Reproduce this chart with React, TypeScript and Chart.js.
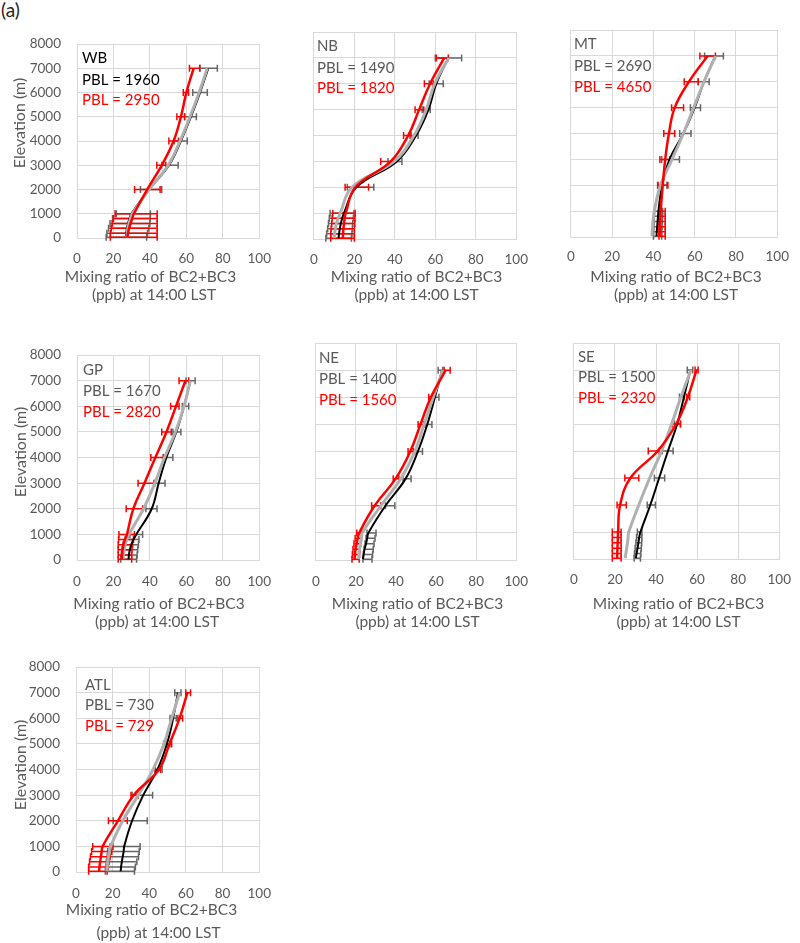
import React, { useEffect, useRef } from "react";
import { Chart, registerables } from "chart.js";

Chart.register(...registerables);

// ---------- data ----------
const LEVELS = [30, 200, 400, 600, 800, 1000, 2000, 3000, 4000, 5000, 6000, 7000];
const X_TITLE = ["Mixing ratio of BC2+BC3", "(ppb) at 14:00 LST"];
const Y_TITLE = "Elevation (m)";

// WB
const WB_BLACK = [26.8, 27.0, 27.4, 28.0, 28.8, 29.8, 39.5, 50.5, 57.0, 62.5, 67.5, 72.0];
const WB_GRAY = [27.3, 27.5, 27.9, 28.5, 29.3, 30.3, 39.5, 50.0, 56.5, 62.0, 67.0, 71.5];
const WB_RED = [27.6, 28.0, 28.6, 29.4, 30.3, 31.2, 38.5, 46.5, 53.0, 57.0, 60.0, 64.0];
const WB_RED_LO = [18.3, 18.3, 18.8, 19.3, 20.0, 20.9, 31.6, 43.8, 50.4, 54.8, 58.3, 61.7];
const WB_RED_HI = [44.0, 44.0, 44.0, 44.0, 44.0, 44.0, 45.6, 48.7, 55.7, 59.1, 61.2, 67.3];
const WB_BLACK_LO = [16.0, 16.4, 17.3, 18.1, 19.5, 21.6, 34.8, 46.5, 53.5, 59.0, 63.5, 67.5];
const WB_BLACK_HI = [38.2, 38.7, 39.4, 40.0, 40.2, 40.3, 46.5, 55.5, 60.5, 65.5, 71.5, 77.0];

// NB
const NB_BLACK = [12.2, 12.4, 12.8, 13.3, 14.0, 14.8, 21.0, 41.0, 50.5, 56.6, 60.5, 66.4];
const NB_GRAY = [10.0, 10.2, 10.6, 11.2, 12.0, 13.0, 18.8, 39.7, 49.5, 55.5, 59.7, 66.7];
const NB_RED = [14.3, 14.4, 14.6, 14.9, 15.2, 15.7, 20.5, 38.0, 46.6, 52.0, 57.4, 64.4];
const NB_RED_LO = [8.3, 8.3, 8.5, 8.8, 9.0, 9.3, 15.4, 33.0, 44.3, 50.0, 54.6, 60.5];
const NB_RED_HI = [20.0, 20.0, 20.0, 20.2, 20.3, 20.4, 27.0, 39.0, 48.0, 54.3, 59.0, 66.4];
const NB_BLACK_LO = [5.9, 6.3, 6.8, 7.2, 7.6, 8.0, 16.5, 36.6, 47.5, 53.5, 57.0, 60.0];
const NB_BLACK_HI = [18.5, 18.8, 19.0, 19.2, 19.5, 19.8, 29.6, 43.5, 51.5, 57.5, 63.9, 73.0];

// MT
const MT_BLACK = [41.5, 41.6, 41.8, 42.0, 42.2, 42.4, 44.2, 47.8, 54.5, 60.0, 64.5, 70.0];
const MT_GRAY = [39.3, 39.4, 39.6, 39.8, 40.1, 40.4, 43.4, 49.0, 54.5, 59.5, 64.5, 70.1];
const MT_RED = [43.0, 43.1, 43.2, 43.3, 43.4, 43.5, 44.5, 45.7, 47.5, 50.3, 57.2, 66.3];
const MT_RED_LO = [42.7, 42.7, 42.7, 42.7, 42.7, 42.7, 42.2, 43.1, 45.0, 48.8, 54.9, 62.5];
const MT_RED_HI = [45.7, 45.7, 45.7, 45.7, 45.7, 45.7, 47.0, 48.0, 50.3, 54.6, 61.7, 70.0];
const MT_BLACK_LO = [40.0, 40.0, 40.2, 40.3, 40.4, 40.5, 42.0, 44.0, 52.7, 57.9, 61.7, 64.8];
const MT_BLACK_HI = [44.0, 44.0, 44.2, 44.3, 44.4, 44.5, 46.5, 52.6, 58.2, 62.8, 67.0, 73.9];

// GP
const GP_BLACK = [28.3, 28.5, 29.0, 29.8, 31.0, 32.5, 41.0, 44.8, 49.0, 54.5, 58.7, 62.2];
const GP_GRAY = [25.3, 25.5, 25.9, 26.5, 27.3, 28.5, 36.5, 42.7, 48.0, 54.0, 58.7, 62.2];
const GP_RED = [24.5, 24.7, 25.0, 25.5, 26.3, 27.4, 30.9, 37.0, 43.0, 49.1, 54.3, 59.5];
const GP_RED_LO = [22.6, 22.6, 22.6, 22.6, 22.8, 23.0, 27.0, 33.5, 40.5, 46.5, 51.4, 56.0];
const GP_RED_HI = [30.0, 30.0, 30.2, 30.5, 31.0, 31.5, 36.0, 42.2, 47.4, 51.7, 56.0, 61.3];
const GP_BLACK_LO = [24.0, 24.3, 24.7, 25.3, 26.5, 29.0, 37.8, 42.7, 47.4, 52.6, 57.8, 59.8];
const GP_BLACK_HI = [32.7, 33.0, 33.3, 33.7, 34.0, 36.0, 43.9, 48.3, 52.6, 57.0, 61.3, 64.8];

// NE
const NE_BLACK = [23.5, 23.8, 24.3, 25.0, 25.6, 26.2, 34.7, 44.8, 50.9, 55.6, 59.4, 63.0];
const NE_GRAY = [21.3, 21.5, 21.8, 22.2, 22.7, 23.1, 32.4, 42.4, 49.4, 54.0, 58.6, 63.3];
const NE_RED = [19.3, 19.5, 19.8, 20.3, 20.9, 21.6, 29.3, 39.8, 47.1, 52.2, 57.4, 64.8];
const NE_RED_LO = [18.0, 18.2, 18.5, 19.0, 19.6, 20.4, 27.8, 38.6, 46.0, 51.0, 56.3, 64.0];
const NE_RED_HI = [21.6, 21.8, 22.0, 22.3, 22.7, 23.1, 32.4, 41.4, 48.6, 53.7, 58.6, 67.0];
const NE_BLACK_LO = [23.5, 23.7, 24.0, 24.5, 25.0, 25.5, 34.7, 43.5, 50.0, 54.5, 58.0, 61.0];
const NE_BLACK_HI = [28.0, 28.3, 28.6, 29.0, 29.5, 30.0, 39.4, 47.5, 53.2, 57.9, 61.4, 63.3];

// SE
const SE_BLACK = [30.2, 30.5, 31.0, 31.4, 31.8, 32.4, 37.2, 41.5, 45.8, 50.3, 53.6, 56.7];
const SE_GRAY = [25.0, 25.3, 25.7, 26.1, 26.4, 26.7, 31.6, 36.9, 42.7, 47.6, 52.1, 57.0];
const SE_RED = [21.0, 21.1, 21.2, 21.3, 21.4, 21.5, 22.5, 27.5, 40.8, 49.8, 55.5, 59.7];
const SE_RED_LO = [18.7, 18.7, 18.7, 18.7, 18.7, 18.7, 21.0, 24.8, 36.2, 47.9, 54.9, 59.0];
const SE_RED_HI = [23.0, 23.0, 23.0, 23.0, 23.0, 23.0, 25.5, 31.6, 41.5, 51.8, 56.4, 60.5];
const SE_BLACK_LO = [29.3, 29.5, 29.8, 30.2, 30.5, 30.9, 35.7, 39.2, 43.0, 49.0, 51.4, 55.2];
const SE_BLACK_HI = [32.4, 32.6, 32.8, 33.0, 33.1, 33.1, 39.7, 44.2, 48.3, 52.0, 53.6, 57.9];

// ATL
const ATL_BLACK = [24.4, 24.6, 25.0, 25.5, 26.0, 26.3, 30.6, 36.7, 44.4, 49.6, 53.0, 55.6];
const ATL_GRAY = [16.9, 17.0, 17.3, 17.7, 18.2, 18.9, 25.5, 34.0, 42.0, 48.0, 52.2, 56.5];
const ATL_RED = [12.6, 12.8, 13.2, 13.6, 14.0, 14.5, 22.9, 31.5, 45.3, 51.0, 56.5, 60.8];
const ATL_RED_LO = [6.9, 6.9, 7.4, 7.9, 8.5, 9.1, 17.7, 30.0, 43.2, 49.6, 55.6, 59.9];
const ATL_RED_HI = [17.0, 17.5, 18.0, 18.6, 19.5, 20.2, 28.0, 34.0, 46.1, 52.2, 58.2, 62.5];
const ATL_BLACK_LO = [16.0, 16.3, 16.6, 17.0, 17.3, 18.6, 20.3, 30.6, 43.2, 47.8, 51.3, 53.9];
const ATL_BLACK_HI = [31.9, 32.4, 33.2, 34.1, 34.5, 35.0, 38.9, 41.8, 47.0, 51.3, 54.7, 57.3];

// ---------- style ----------
const FONT = "Lato, 'Open Sans', sans-serif";
const TXT = "#595959";
const GRID = "#d9d9d9";
const RED = "#ff0000";
const GRAYLINE = "#b0b0b0";
const BARGRAY = "#666666";

type Area = { l: number; t: number; r: number; b: number };
type PanelDef = {
  name: string;
  pbl1: string;
  pbl2: string;
  firstColor: string;
  black: number[];
  gray: number[];
  red: number[];
  blackLo: number[];
  blackHi: number[];
  redLo: number[];
  redHi: number[];
  area: Area;
  showY: boolean;
  xH: number;
  tickPad: number;
  t1: [number, number];
  t2: [number, number];
  yt: [number, number];
  lx: number;
  ly: number[];
};

const PANELS: PanelDef[] = [
  {
    name: "WB", pbl1: "PBL = 1960", pbl2: "PBL = 2950", firstColor: "#000000",
    black: WB_BLACK, gray: WB_GRAY, red: WB_RED,
    blackLo: WB_BLACK_LO, blackHi: WB_BLACK_HI, redLo: WB_RED_LO, redHi: WB_RED_HI,
    area: { l: 77, t: 32, r: 268, b: 238 }, showY: true, xH: 74, tickPad: 13,
    t1: [150.5, 277], t2: [154, 295], yt: [20, 123],
    lx: 5, ly: [14, 36, 56],
  },
  {
    name: "NB", pbl1: "PBL = 1490", pbl2: "PBL = 1820", firstColor: TXT,
    black: NB_BLACK, gray: NB_GRAY, red: NB_RED,
    blackLo: NB_BLACK_LO, blackHi: NB_BLACK_HI, redLo: NB_RED_LO, redHi: NB_RED_HI,
    area: { l: 309, t: 32, r: 525, b: 239 }, showY: false, xH: 74, tickPad: 13,
    t1: [416.5, 277], t2: [416.5, 295], yt: [0, 0],
    lx: 3, ly: [14, 36, 56],
  },
  {
    name: "MT", pbl1: "PBL = 2690", pbl2: "PBL = 4650", firstColor: TXT,
    black: MT_BLACK, gray: MT_GRAY, red: MT_RED,
    blackLo: MT_BLACK_LO, blackHi: MT_BLACK_HI, redLo: MT_RED_LO, redHi: MT_RED_HI,
    area: { l: 567, t: 30, r: 785, b: 237 }, showY: false, xH: 74, tickPad: 12,
    t1: [676, 277], t2: [676, 295], yt: [0, 0],
    lx: 3, ly: [14, 36, 57],
  },
  {
    name: "GP", pbl1: "PBL = 1670", pbl2: "PBL = 2820", firstColor: TXT,
    black: GP_BLACK, gray: GP_GRAY, red: GP_RED,
    blackLo: GP_BLACK_LO, blackHi: GP_BLACK_HI, redLo: GP_RED_LO, redHi: GP_RED_HI,
    area: { l: 77, t: 343, r: 269, b: 560 }, showY: true, xH: 76, tickPad: 14,
    t1: [159, 604], t2: [157, 622], yt: [21, 452],
    lx: 6, ly: [15, 36, 57],
  },
  {
    name: "NE", pbl1: "PBL = 1400", pbl2: "PBL = 1560", firstColor: TXT,
    black: NE_BLACK, gray: NE_GRAY, red: NE_RED,
    blackLo: NE_BLACK_LO, blackHi: NE_BLACK_HI, redLo: NE_RED_LO, redHi: NE_RED_HI,
    area: { l: 310, t: 343, r: 526, b: 560 }, showY: false, xH: 76, tickPad: 14,
    t1: [417.5, 604], t2: [417.5, 622], yt: [0, 0],
    lx: 3, ly: [15, 36, 57],
  },
  {
    name: "SE", pbl1: "PBL = 1500", pbl2: "PBL = 2320", firstColor: TXT,
    black: SE_BLACK, gray: SE_GRAY, red: SE_RED,
    blackLo: SE_BLACK_LO, blackHi: SE_BLACK_HI, redLo: SE_RED_LO, redHi: SE_RED_HI,
    area: { l: 569, t: 343, r: 788, b: 559 }, showY: false, xH: 76, tickPad: 13,
    t1: [678.5, 604], t2: [678.5, 622], yt: [0, 0],
    lx: 4, ly: [14, 34, 55],
  },
  {
    name: "ATL", pbl1: "PBL = 730", pbl2: "PBL = 729", firstColor: TXT,
    black: ATL_BLACK, gray: ATL_GRAY, red: ATL_RED,
    blackLo: ATL_BLACK_LO, blackHi: ATL_BLACK_HI, redLo: ATL_RED_LO, redHi: ATL_RED_HI,
    area: { l: 76, t: 655, r: 269, b: 872 }, showY: true, xH: 80, tickPad: 14,
    t1: [151.5, 910], t2: [158.5, 933], yt: [21, 765],
    lx: 9, ly: [18, 38, 59],
  },
];

function toPoints(xs: number[]) {
  return xs.map((v, i) => ({ x: v, y: LEVELS[i] }));
}

function Panel({ p }: { p: PanelDef }) {
  const ref = useRef<HTMLCanvasElement | null>(null);
  const padT = 12;
  const padR = 16;
  const yW = p.showY ? p.area.l : 12;
  const left = p.area.l - yW;
  const top = p.area.t - padT;
  const width = p.area.r + padR - left;
  const height = p.area.b + p.xH - top;

  useEffect(() => {
    const canvas = ref.current;
    if (!canvas) return;

    const barsPlugin = {
      id: "errbars_" + p.name,
      beforeDatasetsDraw(chart: any) {
        const { ctx, scales } = chart;
        const xs = scales.x;
        const ys = scales.y;
        const sets = [
          { lo: p.blackLo, hi: p.blackHi, color: BARGRAY },
          { lo: p.redLo, hi: p.redHi, color: RED },
        ];
        ctx.save();
        ctx.lineWidth = 1.5;
        for (const s of sets) {
          ctx.strokeStyle = s.color;
          LEVELS.forEach((lv, i) => {
            const py = ys.getPixelForValue(lv);
            const x1 = xs.getPixelForValue(s.lo[i]);
            const x2 = xs.getPixelForValue(s.hi[i]);
            ctx.beginPath();
            ctx.moveTo(x1, py);
            ctx.lineTo(x2, py);
            ctx.moveTo(x1, py - 3.5);
            ctx.lineTo(x1, py + 3.5);
            ctx.moveTo(x2, py - 3.5);
            ctx.lineTo(x2, py + 3.5);
            ctx.stroke();
          });
        }
        ctx.restore();
      },
      afterDraw(chart: any) {
        const { ctx, chartArea } = chart;
        ctx.save();
        ctx.font = `15px ${FONT}`;
        ctx.textBaseline = "middle";
        ctx.textAlign = "left";
        const texts = [p.name, p.pbl1, p.pbl2];
        const colors = [p.firstColor, p.firstColor, RED];
        texts.forEach((t, i) => {
          ctx.fillStyle = colors[i];
          ctx.fillText(t, chartArea.left + p.lx, chartArea.top + p.ly[i]);
        });
        // axis titles
        ctx.fillStyle = TXT;
        ctx.textAlign = "center";
        ctx.font = `15.5px ${FONT}`;
        ctx.fillText(X_TITLE[0], p.t1[0] - left, p.t1[1] - top);
        ctx.fillText(X_TITLE[1], p.t2[0] - left, p.t2[1] - top);
        if (p.showY) {
          ctx.font = `16px ${FONT}`;
          ctx.translate(p.yt[0] - left, p.yt[1] - top);
          ctx.rotate(-Math.PI / 2);
          ctx.fillText(Y_TITLE, 0, 0);
        }
        ctx.restore();
      },
    };

    const chart = new Chart(canvas, {
      type: "line",
      data: {
        datasets: [
          {
            label: "red",
            data: toPoints(p.red),
            borderColor: RED,
            borderWidth: 2.5,
            tension: 0.4,
            pointRadius: 0,
            fill: false,
          },
          {
            label: "gray",
            data: toPoints(p.gray),
            borderColor: GRAYLINE,
            borderWidth: 3,
            tension: 0.4,
            pointRadius: 0,
            fill: false,
          },
          {
            label: "black",
            data: toPoints(p.black),
            borderColor: "#000000",
            borderWidth: 2,
            tension: 0.4,
            pointRadius: 0,
            fill: false,
          },
        ],
      },
      options: {
        animation: false,
        responsive: false,
        devicePixelRatio: 1,
        events: [],
        layout: { padding: { top: padT, right: padR, left: 0, bottom: 0 } },
        plugins: {
          legend: { display: false },
          tooltip: { enabled: false },
          title: { display: false },
        },
        scales: {
          x: {
            type: "linear",
            min: 0,
            max: 100,
            ticks: {
              stepSize: 20,
              autoSkip: false,
              maxRotation: 0,
              color: TXT,
              padding: p.tickPad,
              font: { family: FONT, size: 13.5 },
              callback: (v: any) => String(v),
            },
            grid: { color: GRID, drawTicks: false, lineWidth: 1 },
            border: { color: GRID, width: 1 },
            title: { display: false },
            afterFit: (s: any) => {
              s.height = p.xH;
            },
          },
          y: {
            type: "linear",
            min: 0,
            max: 8000,
            ticks: {
              display: p.showY,
              stepSize: 1000,
              autoSkip: false,
              color: TXT,
              padding: 16,
              font: { family: FONT, size: 13.5 },
              callback: (v: any) => String(v),
            },
            grid: { color: GRID, drawTicks: false, lineWidth: 1 },
            border: { color: GRID, width: 1 },
            title: { display: false },
            afterFit: (s: any) => {
              s.width = yW;
            },
          },
        },
      },
      plugins: [barsPlugin],
    } as any);

    return () => chart.destroy();
  }, []);

  return (
    <canvas
      ref={ref}
      width={width}
      height={height}
      style={{ position: "absolute", left, top, width, height, display: "block" }}
    />
  );
}

export default function App() {
  return (
    <div
      style={{
        position: "absolute",
        left: 0,
        top: 0,
        width: 800,
        height: 943,
        overflow: "hidden",
        background: "#ffffff",
      }}
    >
      <div
        style={{
          position: "absolute",
          left: 1,
          top: -1,
          fontFamily: FONT,
          fontSize: 19,
          lineHeight: "22px",
          color: "#222",
        }}
      >
        (a)
      </div>
      {PANELS.map((p) => (
        <Panel key={p.name} p={p} />
      ))}
    </div>
  );
}
